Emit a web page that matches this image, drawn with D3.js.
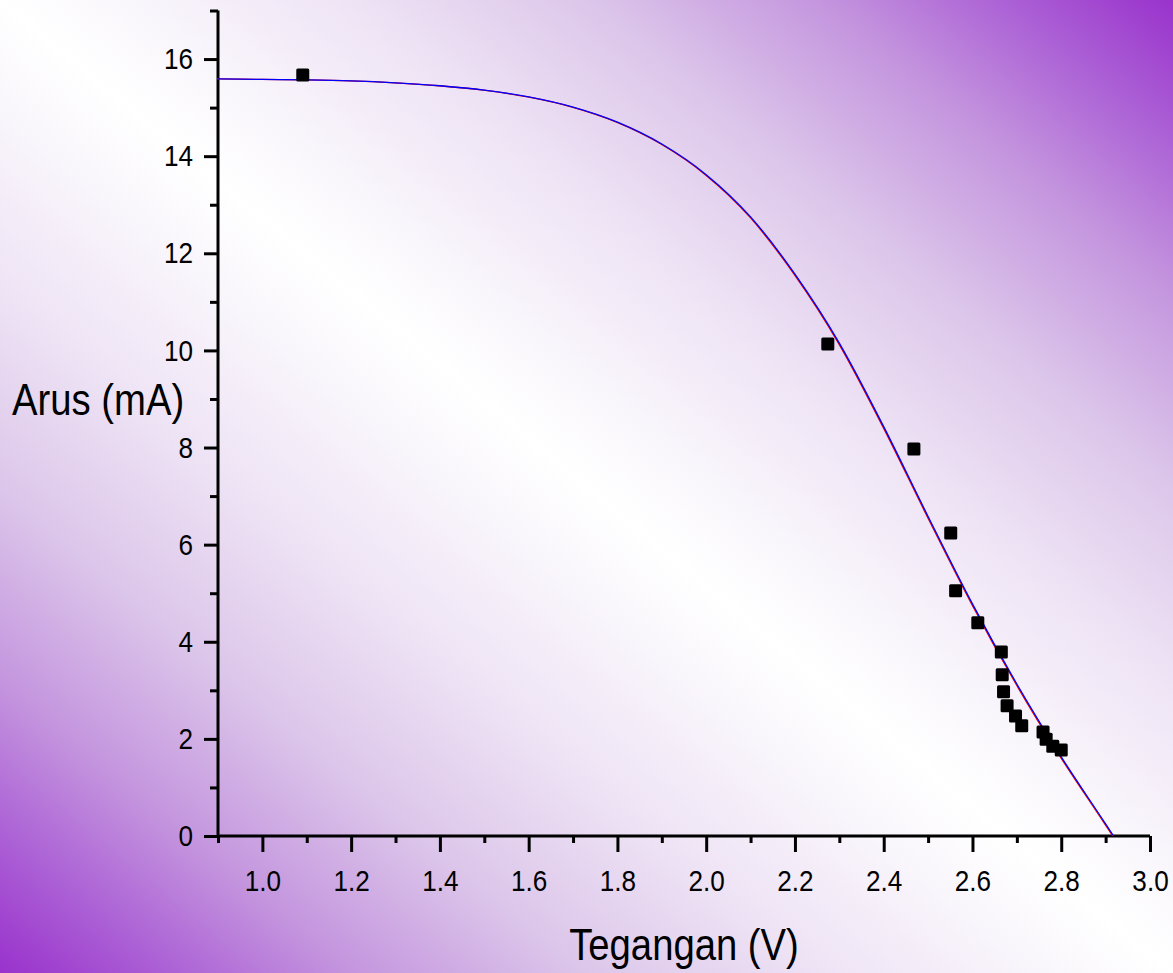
<!DOCTYPE html>
<html>
<head>
<meta charset="utf-8">
<script src="https://cdn.jsdelivr.net/npm/d3@7"></script>
<style>
  html, body { margin: 0; padding: 0; background: #fff; }
  svg { display: block; font-family: "Liberation Sans", Arial, sans-serif; }
</style>
</head>
<body>
<svg id="chart" width="1173" height="973"></svg>
<script>
// measured points
var voltage = [1.091, 2.274, 2.468, 2.551, 2.562, 2.612, 2.665, 2.667, 2.670, 2.678, 2.697, 2.711, 2.759, 2.766, 2.781, 2.800];
var current = [15.67, 10.13, 7.97, 6.24, 5.05, 4.39, 3.79, 3.32, 2.97, 2.68, 2.47, 2.27, 2.14, 1.99, 1.85, 1.77];

// fitted curve
var fitV = [0.9, 1.0, 1.1, 1.2, 1.3, 1.4, 1.5, 1.6, 1.7, 1.8, 1.9, 2.0, 2.1, 2.2, 2.3, 2.4, 2.5, 2.6, 2.7, 2.8, 2.9, 2.918];
var fitI = [15.59, 15.58, 15.57, 15.55, 15.51, 15.45, 15.36, 15.22, 15.01, 14.70, 14.25, 13.62, 12.75, 11.57, 10.15, 8.43, 6.58, 4.78, 3.13, 1.63, 0.25, 0.0];

var xTicks = [1.0, 1.2, 1.4, 1.6, 1.8, 2.0, 2.2, 2.4, 2.6, 2.8, 3.0];
var xMinorTicks = [0.9, 1.1, 1.3, 1.5, 1.7, 1.9, 2.1, 2.3, 2.5, 2.7, 2.9];
var yTicks = [0, 2, 4, 6, 8, 10, 12, 14, 16];
var yMinorTicks = [1, 3, 5, 7, 9, 11, 13, 15, 17];

var svg = d3.select('#chart'),
    W = 1173, H = 973,
    SX = 0.87; // text is a bit narrower than plain Arial

// background: purple corners (bottom-left, top-right), white diagonal band
var defs = svg.append('defs');
var grad = defs.append('linearGradient')
    .attr('id', 'bg')
    .attr('x1', 0).attr('y1', 1).attr('x2', 1).attr('y2', 0);
[[0, '#9932cc'], [0.07, '#ab5fd5'], [0.15, '#c495de'], [0.25, '#dcc6ea'], [0.35, '#eee3f5'], [0.45, '#faf7fc'],
 [0.5, '#ffffff'],
 [0.55, '#faf7fc'], [0.65, '#eee3f5'], [0.75, '#dcc6ea'], [0.85, '#c495de'], [0.93, '#ab5fd5'], [1, '#9932cc']]
  .forEach(function(s){
    grad.append('stop').attr('offset', s[0]).attr('stop-color', s[1]);
  });

svg.append('rect').attr('width', W).attr('height', H).attr('fill', 'url(#bg)');

var x = d3.scaleLinear().domain([0.9, 3.0]).range([218, 1150]);
var y = d3.scaleLinear().domain([0, 17]).range([836, 10.5]);

// axes
var xAxis = svg.append('g').attr('transform', 'translate(0,836)')
    .call(d3.axisBottom(x).tickValues(xTicks).tickFormat(d3.format('.1f')).tickSize(16).tickPadding(18));
var xMinor = svg.append('g').attr('transform', 'translate(0,836)')
    .call(d3.axisBottom(x).tickValues(xMinorTicks).tickFormat('').tickSize(7));

var yAxis = svg.append('g').attr('transform', 'translate(218,0)')
    .call(d3.axisLeft(y).tickValues(yTicks).tickSize(14).tickPadding(11));
var yMinor = svg.append('g').attr('transform', 'translate(218,0)')
    .call(d3.axisLeft(y).tickValues(yMinorTicks).tickFormat('').tickSize(8));

svg.selectAll('.domain').attr('stroke', '#000').attr('stroke-width', 3);
svg.selectAll('.tick line').attr('stroke', '#000').attr('stroke-width', 3);
svg.selectAll('.tick text').attr('fill', '#000')
    .style('font-size', '30px').style('font-family', '"Liberation Sans", Arial, sans-serif');
xAxis.select('.domain').attr('d', 'M' + x(0.9) + ',0H' + x(3.0));
yAxis.select('.domain').attr('d', 'M0,' + y(17) + 'V' + y(0));
xMinor.select('.domain').remove();
yMinor.select('.domain').remove();

// squeeze labels horizontally around their anchor
xAxis.selectAll('.tick text').attr('transform', 'scale(' + SX + ',1)');
yAxis.selectAll('.tick text').each(function(){
    var t = d3.select(this);
    t.attr('x', +t.attr('x') / SX).attr('transform', 'scale(' + SX + ',1)');
});

// fit curves
var fit = fitV.map(function(v, i){ return {v: v, i: fitI[i]} });
var line = d3.line()
    .x(function(d){ return x(d.v) })
    .y(function(d){ return y(d.i) })
    .curve(d3.curveMonotoneX);

svg.append('path').datum(fit)
    .attr('d', line).attr('fill', 'none').attr('stroke', '#e00000').attr('stroke-width', 1.3)
    .attr('transform', 'translate(-0.9,0)');
svg.append('path').datum(fit)
    .attr('d', line).attr('fill', 'none').attr('stroke', '#0000ff').attr('stroke-width', 1.3);

// points
var pts = voltage.map(function(v, i){ return {v: v, i: current[i]} });
svg.selectAll('.dot').data(pts).enter().append('rect')
    .attr('class', 'dot')
    .attr('x', function(d){ return x(d.v) - 6.5 })
    .attr('y', function(d){ return y(d.i) - 6.5 })
    .attr('width', 13).attr('height', 13)
    .attr('rx', 1.5)
    .attr('fill', '#000');

// titles
svg.append('text')
    .attr('transform', 'translate(12,415) scale(' + SX + ',1)')
    .style('font-size', '44px').text('Arus (mA)');
svg.append('text')
    .attr('transform', 'translate(684,960) scale(0.85,1)')
    .attr('text-anchor', 'middle')
    .style('font-size', '45px').text('Tegangan (V)');
</script>
</body>
</html>
